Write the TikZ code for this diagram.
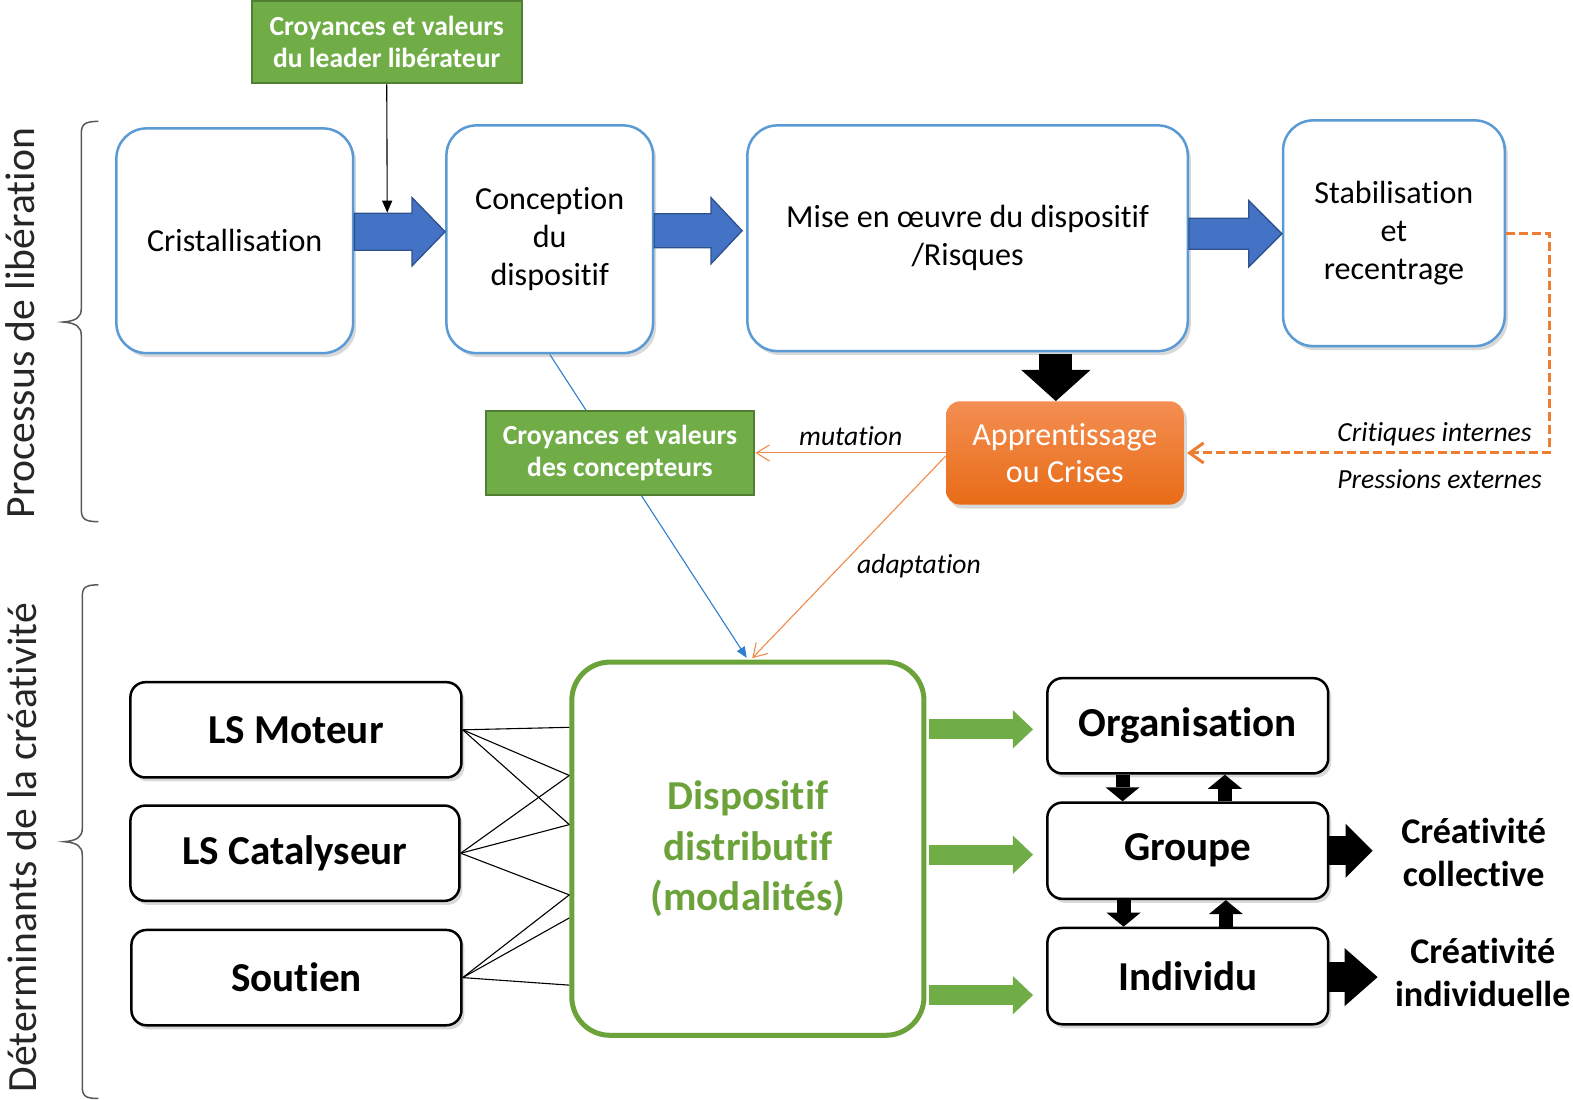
\documentclass[tikz,border=0pt]{standalone}
\usepackage{fontspec}
\setmainfont{Carlito}[Ligatures=NoCommon]
\usetikzlibrary{arrows.meta,shadows,calc}
\definecolor{bluebd}{HTML}{5B9BD5}
\definecolor{bluefill}{HTML}{4472C4}
\definecolor{bluearrbd}{HTML}{2F528F}
\definecolor{greenfill}{HTML}{70AD47}
\definecolor{greenbd}{HTML}{507E32}
\definecolor{dispgreen}{HTML}{6BA33A}
\definecolor{orline}{HTML}{F08A4B}
\definecolor{ordash}{HTML}{ED7D31}
\definecolor{ortop}{HTML}{F48E52}
\definecolor{orbot}{HTML}{E86C17}
\definecolor{bline}{HTML}{2E7FD0}
\definecolor{bracegray}{HTML}{595959}
\definecolor{labgray}{HTML}{262626}
\pgfdeclarelayer{background}
\pgfsetlayers{background,main}
% horizontal block arrow from #1 to #2: half shaft #3, half head #4, head length #5
\newcommand\blkright[5]{%
  \path[bluearrow] let \p1=(#1), \p2=(#2) in
    (\x1,\y1+#3) -- (\x2-#5,\y1+#3) -- (\x2-#5,\y1+#4) -- (\x2,\y1)
    -- (\x2-#5,\y1-#4) -- (\x2-#5,\y1-#3) -- (\x1,\y1-#3) -- cycle;}
\begin{document}
\begin{tikzpicture}[x=1pt,y=-1pt,
  shad/.style={drop shadow={shadow xshift=3pt,shadow yshift=-4pt,opacity=0.3}},
  procbox/.style={shad,draw=bluebd,line width=2.5pt,fill=white,rounded corners=30pt,inner sep=0pt,align=center,font=\fontsize{32}{38}\selectfont},
  belief/.style={draw=greenbd,fill=greenfill,line width=2pt,text=white,inner sep=0pt,align=center,font=\bfseries\fontsize{27.5}{32}\selectfont},
  lsbox/.style={shad,draw=black,line width=2.5pt,fill=white,rounded corners=15pt,inner sep=0pt,align=center,font=\bfseries\fontsize{41}{48}\selectfont},
  blk/.style n args={4}{draw=#4,line width=#1,-{Triangle[length=#2,width=#3,line width=0pt]}},
  bluearrow/.style={fill=bluefill,draw=bluearrbd,line width=1.3pt,line join=miter},
  thinline/.style={line width=1.1pt},
  lbl/.style={font=\itshape\fontsize{27.5}{30}\selectfont,inner sep=0pt},
  side/.style={rotate=90,font=\fontsize{41.5}{48}\selectfont,text=labgray,inner sep=0pt},
  bracestyle/.style={draw=bracegray,line width=1.5pt},
  crea/.style={align=center,inner sep=0pt,font=\bfseries\fontsize{36}{43}\selectfont}
]
\useasboundingbox (0,0) rectangle (1568,1096.5);

% nodes
\node[belief,minimum width=269pt,minimum height=82pt] (lead) at (385.5,42) {Croyances et valeurs\\du leader libérateur};
\node[procbox,minimum width=236pt,minimum height=224pt] (crist) at (234,240) {Cristallisation};
\node[procbox,minimum width=206pt,minimum height=227pt] (concep) at (548,238.5) {Conception\\du\\dispositif};
\node[procbox,minimum width=439pt,minimum height=225pt] (mise) at (964.5,237.5) {Mise en œuvre du dispositif\\/Risques};
\node[procbox,minimum width=221pt,minimum height=225pt] (stab) at (1389.5,232.5) {Stabilisation\\et\\recentrage};
\node[shad,rounded corners=14pt,top color=ortop,bottom color=orbot,minimum width=237pt,minimum height=103pt,inner sep=0pt,align=center,text=white,font=\fontsize{32}{37}\selectfont] (appr) at (1061.5,451.5) {Apprentissage\\ou Crises};
\node[belief,minimum width=268pt,minimum height=83pt] (conc) at (618,451.5) {Croyances et valeurs\\des concepteurs};
\node[draw=dispgreen,line width=5pt,fill=white,rounded corners=38pt,minimum width=351pt,minimum height=372pt,inner sep=0pt,align=center,text=dispgreen,font=\bfseries\fontsize{41}{50}\selectfont] (disp) at (745.5,846) {\raisebox{-7pt}{\parbox{320pt}{\centering Dispositif\\distributif\\(modalités)}}};
\node[lsbox,minimum width=330pt,minimum height=95pt] (lsm) at (295,727.5) {LS Moteur};
\node[lsbox,minimum width=328pt,minimum height=95pt] (lsc) at (294,850.5) {LS Catalyseur};
\node[lsbox,minimum width=329pt,minimum height=95pt] (sout) at (295.5,974.5) {Soutien};
\node[lsbox,minimum width=280pt,minimum height=95pt] (org) at (1184,723.5) {Organisation};
\node[lsbox,minimum width=280pt,minimum height=96pt] (grp) at (1184,848) {Groupe};
\node[lsbox,minimum width=280pt,minimum height=96pt] (ind) at (1184,973) {Individu};
\node[crea] (ccol) at (1469,850) {Créativité\\collective};
\node[crea] (cind) at (1478,969) {Créativité\\individuelle};

% side labels and braces
\node[side] (plib) at (20,322) {Processus de libération};
\node[side] (pdet) at (22,845) {Déterminants de la créativité};
\draw[bracestyle] (98,121) .. controls (84,121) and (81,124) .. (81,134) -- (81,308)
  .. controls (81,316) and (76,320) .. (63,321) .. controls (76,322) and (81,326) .. (81,334)
  -- (81,507) .. controls (81,517) and (84,520) .. (98,520);
\draw[bracestyle] (98,583) .. controls (84,583) and (82,586) .. (82,596) -- (82,826)
  .. controls (82,834) and (77,838) .. (64,839) .. controls (77,840) and (82,844) .. (82,852)
  -- (82,1082) .. controls (82,1092) and (84,1095) .. (98,1095);

% blue block arrows
\coordinate (a1) at ([yshift=9pt]crist.east);
\coordinate (a1e) at (a1 -| concep.west);
\blkright{a1}{a1e}{18.5pt}{34pt}{33pt}
\coordinate (a2) at ([yshift=8.5pt]concep.east);
\coordinate (a2e) at ([xshift=-4pt]a2 -| mise.west);
\blkright{a2}{a2e}{17pt}{33pt}{31pt}
\coordinate (a3) at ([yshift=4.5pt]mise.east);
\coordinate (a3e) at (a3 -| stab.west);
\blkright{a3}{a3e}{15.5pt}{33pt}{33pt}

% black down arrow
\coordinate (a4) at ([xshift=88pt]mise.south);
\draw[blk={33pt}{31pt}{69pt}{black},shorten <=2pt] (a4) -- (a4 |- appr.north);

% leader arrow
\coordinate (leadtip) at (386,212);
\draw[thinline,-{Triangle[length=12pt,width=10pt]}] (lead.south) -- (leadtip);

% designers line (behind green box)
\begin{pgfonlayer}{background}
\draw[bline,thinline,-{Triangle[length=11pt,width=9pt]},shorten >=2pt] (concep.south) -- (disp.north);
\end{pgfonlayer}

% orange connectors
\draw[orline,thinline,-{Straight Barb[length=13pt,width=16pt]}] (appr.west) -- (conc.east);
\draw[orline,thinline,-{Straight Barb[length=13pt,width=16pt]},shorten >=2pt] ([yshift=-3pt]appr.west) -- ([xshift=3pt]disp.north);
\draw[ordash,line width=3pt,dash pattern=on 9pt off 4pt,-{Straight Barb[length=14pt,width=20pt]}] (stab.east) -- ++(43,0) |- ([xshift=3pt]appr.east);

% labels
\node[lbl] (mut) at (848,435) {mutation};
\node[lbl] (adap) at (916,564) {adaptation};
\node[lbl] (crit) at (1430,433) {Critiques internes};
\node[lbl] (press) at (1435,478) {Pressions externes};

% LS lines
\foreach \s/\d in {lsm/121, lsm/73, lsm/24, lsc/73, lsc/24, lsc/-46, sout/-46, sout/-69, sout/-136}
  \draw[thinline] (\s.east) -- ([yshift=\d pt]disp.west);

% green arrows
\coordinate (g1) at ([yshift=-3.5pt]org.west);
\coordinate (g2) at ([yshift=-4pt]grp.west);
\coordinate (g3) at ([yshift=-19pt]ind.west);
\foreach \g in {g1,g2,g3}
  \draw[blk={20pt}{20pt}{38pt}{greenfill},shorten >=13pt,shorten <=2.5pt] (\g -| disp.east) -- (\g);

% small vertical arrows
\coordinate (s1) at ([xshift=-65pt]org.south);
\draw[blk={14pt}{14pt}{34pt}{black}] (s1) -- (s1 |- grp.north);
\coordinate (s2) at ([xshift=37pt]grp.north);
\draw[blk={14pt}{14pt}{34pt}{black}] (s2) -- (s2 |- org.south);
\coordinate (s3) at ([xshift=-64pt]grp.south);
\draw[blk={14pt}{14pt}{34pt}{black}] (s3) -- (s3 |- ind.north);
\coordinate (s4) at ([xshift=38pt]ind.north);
\draw[blk={14pt}{14pt}{34pt}{black}] (s4) -- (s4 |- grp.south);

% right black arrows
\coordinate (r1) at ([xshift=43pt]grp.east);
\draw[blk={29pt}{27pt}{54pt}{black}] (grp.east) -- (r1);
\coordinate (r2s) at ([yshift=-1pt]ind.east);
\coordinate (r2) at ([xshift=48pt]r2s);
\draw[blk={30pt}{33pt}{58pt}{black}] (r2s) -- (r2);
\end{tikzpicture}
\end{document}
